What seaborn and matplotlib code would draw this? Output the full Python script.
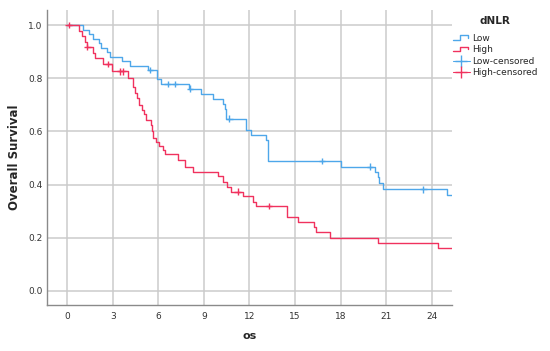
import pandas as pd
import numpy as np
import matplotlib
matplotlib.use('Agg')
import matplotlib.pyplot as plt
import seaborn as sns
from matplotlib.lines import Line2D
from matplotlib.legend_handler import HandlerBase

# Kaplan-Meier curves (time, survival after each drop)
low_time = [0, 1.05, 1.47, 1.73, 2.13, 2.21, 2.65, 2.85, 3.6, 4.14, 5.35, 5.9, 6.16,
            8.03, 8.8, 9.58, 10.29, 10.4, 10.46, 11.8, 12.12, 13.09, 13.24, 18.0,
            20.28, 20.43, 20.54, 20.77, 24.98, 25.3]
low_surv = [1.0, 0.983, 0.966, 0.949, 0.932, 0.915, 0.898, 0.881, 0.864, 0.847, 0.831,
            0.797, 0.779, 0.761, 0.742, 0.723, 0.704, 0.686, 0.648, 0.605, 0.586, 0.567,
            0.488, 0.467, 0.448, 0.427, 0.405, 0.382, 0.36, 0.36]
high_time = [0, 0.75, 0.96, 1.18, 1.30, 1.73, 1.84, 2.35, 2.94, 4.02, 4.36, 4.47, 4.58,
             4.72, 4.91, 5.07, 5.2, 5.5, 5.6, 5.67, 5.86, 6.07, 6.3, 6.45, 7.32, 7.76,
             8.31, 9.95, 10.29, 10.5, 10.77, 11.56, 12.26, 12.43, 14.5, 15.18, 16.27,
             16.36, 17.3, 20.45, 24.43, 25.3]
high_surv = [1.0, 0.979, 0.958, 0.938, 0.917, 0.896, 0.875, 0.854, 0.826, 0.80, 0.766,
             0.745, 0.725, 0.70, 0.68, 0.665, 0.643, 0.624, 0.60, 0.576, 0.561, 0.545,
             0.53, 0.515, 0.492, 0.467, 0.448, 0.432, 0.41, 0.392, 0.373, 0.357, 0.335,
             0.319, 0.279, 0.258, 0.241, 0.22, 0.2, 0.18, 0.16, 0.16]

# censored observations
low_cens_time = [5.46, 6.62, 7.1, 8.09, 10.68, 16.76, 19.93, 23.44]
low_cens_surv = [0.831, 0.779, 0.779, 0.761, 0.648, 0.488, 0.467, 0.382]
high_cens_time = [0.1, 1.34, 2.72, 3.49, 3.66, 11.23, 13.3]
high_cens_surv = [1.0, 0.917, 0.854, 0.826, 0.826, 0.373, 0.319]

x_ticks = [0, 3, 6, 9, 12, 15, 18, 21, 24]
y_ticks = [0.0, 0.2, 0.4, 0.6, 0.8, 1.0]

blue = '#4ea7ea'
red = '#f0325e'

curves = pd.concat([
    pd.DataFrame({'os': low_time, 'surv': low_surv, 'dNLR': 'Low'}),
    pd.DataFrame({'os': high_time, 'surv': high_surv, 'dNLR': 'High'}),
])
cens = pd.concat([
    pd.DataFrame({'os': low_cens_time, 'surv': low_cens_surv, 'dNLR': 'Low'}),
    pd.DataFrame({'os': high_cens_time, 'surv': high_cens_surv, 'dNLR': 'High'}),
])
pal = {'Low': blue, 'High': red}

sns.set_style('white')
plt.rcParams['font.family'] = ['DejaVu Sans']

fig = plt.figure(figsize=(5.5, 3.51), dpi=100)
ax = fig.add_axes([0.085, 0.130, 0.736, 0.8415])

sns.lineplot(data=curves, x='os', y='surv', hue='dNLR', palette=pal,
             drawstyle='steps-post', estimator=None, linewidth=1.0, ax=ax, legend=False)
sns.scatterplot(data=cens, x='os', y='surv', hue='dNLR', palette=pal, marker='+',
                s=22, linewidth=1.0, ax=ax, legend=False, zorder=3)

ax.set_xlim(-1.34, 25.3)
ax.set_ylim(-0.055, 1.057)
ax.set_xticks(x_ticks)
ax.set_yticks(y_ticks)
ax.set_yticklabels([f'{v:.1f}' for v in y_ticks])
ax.grid(True, color='#cbcbcb', linewidth=1.1)
ax.set_axisbelow(True)
for s in ['top', 'right']:
    ax.spines[s].set_visible(False)
for s in ['left', 'bottom']:
    ax.spines[s].set_color('#8a8a8a')
    ax.spines[s].set_linewidth(1.0)
ax.tick_params(length=0, labelsize=6.5, colors='#333333')
ax.tick_params(axis='x', pad=5)
ax.tick_params(axis='y', pad=3)
ax.set_xlabel('os', fontsize=8, fontweight='bold', labelpad=7)
ax.set_ylabel('Overall Survival', fontsize=8.5, fontweight='bold', labelpad=5)


class StepHandler(HandlerBase):
    def create_artists(self, legend, orig_handle, xdescent, ydescent, width, height,
                       fontsize, trans):
        xs = np.array([0, 0.45, 0.45, 0.92, 0.92]) * width - xdescent
        ys = np.array([0.15, 0.15, 0.85, 0.85, 0.45]) * height - ydescent
        line = Line2D(xs, ys, color=orig_handle.get_color(), linewidth=1.0, transform=trans)
        return [line]


h_low = Line2D([], [], color=blue)
h_high = Line2D([], [], color=red)
h_low_c = Line2D([], [], color=blue, marker='+', markersize=9, linestyle='-', linewidth=0.8)
h_high_c = Line2D([], [], color=red, marker='+', markersize=9, linestyle='-', linewidth=0.8)
leg = fig.legend([h_low, h_high, h_low_c, h_high_c],
                 ['Low', 'High', 'Low-censored', 'High-censored'],
                 handler_map={h_low: StepHandler(), h_high: StepHandler()},
                 title='dNLR', loc='upper left', bbox_to_anchor=(0.818, 0.962),
                 frameon=False, fontsize=6.5, title_fontsize=7.5,
                 handlelength=1.9, handletextpad=0.3, labelspacing=0.28,
                 borderaxespad=0, borderpad=0.3)
leg.get_title().set_fontweight('bold')
leg._legend_box.sep = 5.5

fig.savefig('out.png', dpi=100)
